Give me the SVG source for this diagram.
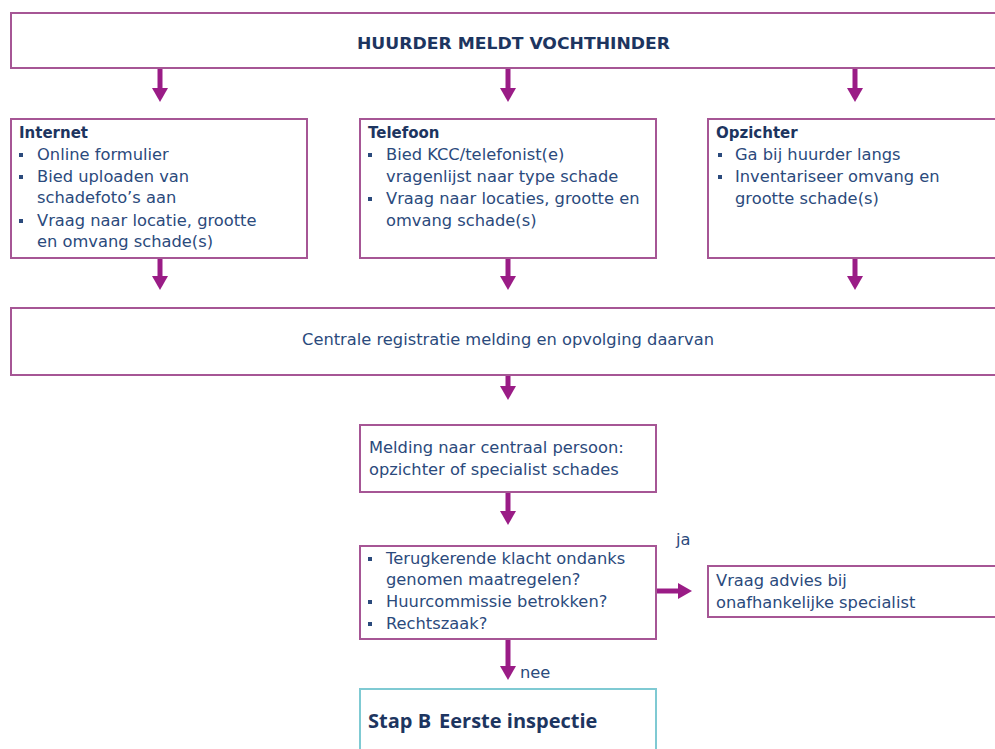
<svg xmlns="http://www.w3.org/2000/svg" width="995" height="749" viewBox="0 0 995 749">
<defs>
<style>
.box{fill:#ffffff;stroke:#a65695;stroke-width:2}
.teal{fill:#ffffff;stroke:#7fcad3;stroke-width:2}
.t{font-family:"DejaVu Sans","Open Sans",sans-serif;font-size:16.3px;fill:#2b4a7c}
.h{font-family:"DejaVu Sans","Open Sans",sans-serif;font-size:15px;font-weight:bold;fill:#1d3560}
.c{stroke:#9a1c86;stroke-width:5;fill:none}
.b{fill:#2b4a7c}
</style>
<marker id="ah" markerUnits="userSpaceOnUse" markerWidth="16" markerHeight="16" refX="0" refY="8" orient="auto">
<path d="M0,0 L14,8 L0,16 Z" fill="#9a1c86"/>
</marker>
</defs>
<rect width="995" height="749" fill="#ffffff"/>

<g id="connectors">
<line class="c" x1="160" y1="68" x2="160" y2="88" marker-end="url(#ah)"/>
<line class="c" x1="508" y1="68" x2="508" y2="88" marker-end="url(#ah)"/>
<line class="c" x1="855" y1="68" x2="855" y2="88" marker-end="url(#ah)"/>
<line class="c" x1="160" y1="258" x2="160" y2="276" marker-end="url(#ah)"/>
<line class="c" x1="508" y1="258" x2="508" y2="276" marker-end="url(#ah)"/>
<line class="c" x1="855" y1="258" x2="855" y2="276" marker-end="url(#ah)"/>
<line class="c" x1="508" y1="375" x2="508" y2="386" marker-end="url(#ah)"/>
<line class="c" x1="508" y1="492" x2="508" y2="511" marker-end="url(#ah)"/>
<line class="c" x1="656" y1="591" x2="678" y2="591" marker-end="url(#ah)"/>
<line class="c" x1="508" y1="639" x2="508" y2="666" marker-end="url(#ah)"/>
<text class="t" x="676" y="545">ja</text>
<text class="t" x="520" y="678">nee</text>
</g>

<g id="n-huurder">
<rect class="box" x="11" y="13" width="995" height="55"/>
<text class="h" x="357" y="49" textLength="313" lengthAdjust="spacingAndGlyphs" style="font-size:16px">HUURDER MELDT VOCHTHINDER</text>
</g>

<g id="n-internet">
<rect class="box" x="11" y="119" width="296" height="139"/>
<text class="h" x="19" y="138">Internet</text>
<rect class="b" x="19" y="153" width="4" height="4"/>
<text class="t" x="37" y="160">Online formulier</text>
<rect class="b" x="19" y="175" width="4" height="4"/>
<text class="t" x="37" y="182">Bied uploaden van</text>
<text class="t" x="37" y="203">schadefoto’s aan</text>
<rect class="b" x="19" y="219" width="4" height="4"/>
<text class="t" x="37" y="226">Vraag naar locatie, grootte</text>
<text class="t" x="37" y="247">en omvang schade(s)</text>
</g>

<g id="n-telefoon">
<rect class="box" x="360" y="119" width="296" height="139"/>
<text class="h" x="368" y="138">Telefoon</text>
<rect class="b" x="368" y="153" width="4" height="4"/>
<text class="t" x="386" y="160">Bied KCC/telefonist(e)</text>
<text class="t" x="386" y="182">vragenlijst naar type schade</text>
<rect class="b" x="368" y="197" width="4" height="4"/>
<text class="t" x="386" y="204">Vraag naar locaties, grootte en</text>
<text class="t" x="386" y="226">omvang schade(s)</text>
</g>

<g id="n-opzichter">
<rect class="box" x="708" y="119" width="300" height="139"/>
<text class="h" x="716" y="138">Opzichter</text>
<rect class="b" x="718" y="153" width="4" height="4"/>
<text class="t" x="735" y="160">Ga bij huurder langs</text>
<rect class="b" x="718" y="175" width="4" height="4"/>
<text class="t" x="735" y="182">Inventariseer omvang en</text>
<text class="t" x="735" y="204">grootte schade(s)</text>
</g>

<g id="n-centrale">
<rect class="box" x="11" y="308" width="995" height="67"/>
<text class="t" x="508" y="345" text-anchor="middle">Centrale registratie melding en opvolging daarvan</text>
</g>

<g id="n-melding">
<rect class="box" x="360" y="425" width="296" height="67"/>
<text class="t" x="369" y="453">Melding naar centraal persoon:</text>
<text class="t" x="369" y="475">opzichter of specialist schades</text>
</g>

<g id="n-vraag">
<rect class="box" x="360" y="546" width="296" height="93"/>
<rect class="b" x="368" y="557" width="4" height="4"/>
<text class="t" x="386" y="564">Terugkerende klacht ondanks</text>
<text class="t" x="386" y="585">genomen maatregelen?</text>
<rect class="b" x="368" y="600" width="4" height="4"/>
<text class="t" x="386" y="607">Huurcommissie betrokken?</text>
<rect class="b" x="368" y="622" width="4" height="4"/>
<text class="t" x="386" y="629">Rechtszaak?</text>
</g>

<g id="n-advies">
<rect class="box" x="708" y="566" width="300" height="51"/>
<text class="t" x="716" y="586">Vraag advies bij</text>
<text class="t" x="716" y="608">onafhankelijke specialist</text>
</g>

<g id="n-stapb">
<rect class="teal" x="360" y="689" width="296" height="80"/>
<text x="368" y="728" style="font-family:'Open Sans','DejaVu Sans',sans-serif;font-size:20px;font-weight:bold;fill:#1d3560">Stap B<tspan dx="8">Eerste inspectie</tspan></text>
</g>
</svg>
